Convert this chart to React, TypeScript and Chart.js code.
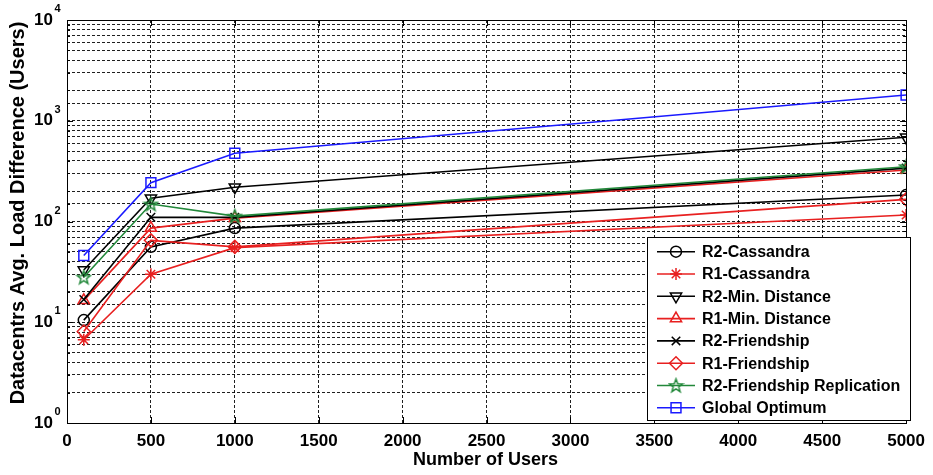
import React, { useEffect, useRef } from 'react';
import { Chart, registerables } from 'chart.js';
import { drawPoint } from 'chart.js/helpers';

Chart.register(...registerables);

// ---- data ----
const xValues = [100, 500, 1000, 5000];
const r2Cassandra = [10.5, 56, 86, 183];
const r1Cassandra = [6.7, 30, 55, 116];
const r2MinDistance = [33, 170, 219, 685];
const r1MinDistance = [16.5, 86, 108, 324];
const r2Friendship = [16.8, 110, 110, 339];
const r1Friendship = [8.1, 65, 56, 166];
const r2FriendshipReplication = [28, 149, 113, 350];
const globalOptimum = [46, 243, 475, 1800];

const seriesNames = [
  'R2-Cassandra',
  'R1-Cassandra',
  'R2-Min. Distance',
  'R1-Min. Distance',
  'R2-Friendship',
  'R1-Friendship',
  'R2-Friendship Replication',
  'Global Optimum',
];
const yDecades = [1, 10, 100, 1000, 10000];
const yExponents = ['0', '1', '2', '3', '4'];
const xAxisTitle = 'Number of Users';
const yAxisTitle = 'Datacentrs Avg. Load Difference (Users)';

const FONT = '"Liberation Sans", Arial, sans-serif';
const BLACK = '#000000';
const RED = '#e82020';
const GREEN = '#22883a';
const BLUE = '#1a1aff';

function makePentagram(color: string) {
  const size = 17;
  const c = document.createElement('canvas');
  c.width = size;
  c.height = size;
  const ctx = c.getContext('2d')!;
  const cx = size / 2;
  const cy = size / 2 + 0.5;
  ctx.beginPath();
  for (let i = 0; i < 10; i++) {
    const r = i % 2 === 0 ? 7 : 2.9;
    const a = -Math.PI / 2 + (i * Math.PI) / 5;
    const px = cx + r * Math.cos(a);
    const py = cy + r * Math.sin(a);
    if (i === 0) ctx.moveTo(px, py);
    else ctx.lineTo(px, py);
  }
  ctx.closePath();
  ctx.strokeStyle = color;
  ctx.lineWidth = 1.5;
  ctx.stroke();
  return c;
}

const toPoints = (ys: number[]) => xValues.map((x, i) => ({ x, y: ys[i] }));

export default function App() {
  const ref = useRef<HTMLCanvasElement | null>(null);

  useEffect(() => {
    if (!ref.current) return;
    const star = makePentagram(GREEN);
    const seriesValues = [
      r2Cassandra,
      r1Cassandra,
      r2MinDistance,
      r1MinDistance,
      r2Friendship,
      r1Friendship,
      r2FriendshipReplication,
      globalOptimum,
    ];
    const styles: { color: string; pointStyle: any; radius: number; rotation: number }[] = [
      { color: BLACK, pointStyle: 'circle', radius: 5.5, rotation: 0 },
      { color: RED, pointStyle: 'star', radius: 6, rotation: 0 },
      { color: BLACK, pointStyle: 'triangle', radius: 6.5, rotation: 180 },
      { color: RED, pointStyle: 'triangle', radius: 6.5, rotation: 0 },
      { color: BLACK, pointStyle: 'crossRot', radius: 6, rotation: 0 },
      { color: RED, pointStyle: 'rectRot', radius: 6.5, rotation: 0 },
      { color: GREEN, pointStyle: star, radius: 7, rotation: 0 },
      { color: BLUE, pointStyle: 'rect', radius: 7, rotation: 0 },
    ];

    const datasets = seriesNames.map((name, i) => ({
      label: name,
      data: toPoints(seriesValues[i]),
      borderColor: styles[i].color,
      backgroundColor: 'rgba(0,0,0,0)',
      borderWidth: 1.6,
      pointStyle: styles[i].pointStyle,
      pointRadius: styles[i].radius,
      pointRotation: styles[i].rotation,
      pointBorderColor: styles[i].color,
      pointBackgroundColor: 'rgba(0,0,0,0)',
      pointBorderWidth: 1.5,
      tension: 0,
      fill: false,
      order: seriesNames.length - i,
    }));

    const decorPlugin = {
      id: 'decor',
      beforeDraw(chart: any) {
        const ctx = chart.ctx;
        ctx.save();
        ctx.fillStyle = '#ffffff';
        ctx.fillRect(0, 0, chart.width, chart.height);
        ctx.restore();
      },
      afterDraw(chart: any) {
        const ctx = chart.ctx;
        const area = chart.chartArea;
        const xs = chart.scales.x;
        const ys = chart.scales.y;
        ctx.save();
        // frame
        ctx.strokeStyle = '#000';
        ctx.lineWidth = 1;
        ctx.setLineDash([]);
        ctx.strokeRect(Math.round(area.left) + 0.5, Math.round(area.top) + 0.5,
          Math.round(area.right - area.left), Math.round(area.bottom - area.top));
        // tick marks inward
        ctx.beginPath();
        xs.ticks.forEach((t: any) => {
          const px = Math.round(xs.getPixelForValue(t.value)) + 0.5;
          ctx.moveTo(px, area.bottom);
          ctx.lineTo(px, area.bottom - 6);
          ctx.moveTo(px, area.top);
          ctx.lineTo(px, area.top + 6);
        });
        ys.ticks.forEach((t: any) => {
          const py = Math.round(ys.getPixelForValue(t.value)) + 0.5;
          const major = yDecades.includes(t.value);
          const len = major ? 6 : 3;
          ctx.moveTo(area.left, py);
          ctx.lineTo(area.left + len, py);
          ctx.moveTo(area.right, py);
          ctx.lineTo(area.right - len, py);
        });
        ctx.stroke();

        // y tick labels 10^n
        ctx.fillStyle = '#000';
        yDecades.forEach((v, i) => {
          const py = ys.getPixelForValue(v);
          ctx.font = `bold 17px ${FONT}`;
          ctx.textAlign = 'right';
          ctx.textBaseline = 'middle';
          ctx.fillText('10', 53, py);
          ctx.font = `bold 11px ${FONT}`;
          ctx.textAlign = 'left';
          ctx.fillText(yExponents[i], 54.5, py - 11);
        });

        // axis titles
        ctx.font = `bold 18px ${FONT}`;
        ctx.textAlign = 'center';
        ctx.textBaseline = 'middle';
        ctx.fillText(xAxisTitle, (area.left + area.right) / 2 - 1, area.bottom + 37);
        ctx.save();
        ctx.translate(18, 213);
        ctx.rotate(-Math.PI / 2);
        ctx.font = `bold 20px ${FONT}`;
        ctx.fillText(yAxisTitle, 0, 0);
        ctx.restore();

        // legend
        const lx = 647, ly = 237, lw = 263, lh = 183;
        ctx.fillStyle = '#fff';
        ctx.fillRect(lx, ly, lw, lh);
        ctx.strokeStyle = '#000';
        ctx.lineWidth = 1;
        ctx.strokeRect(lx + 0.5, ly + 0.5, lw, lh);
        seriesNames.forEach((name, i) => {
          const cy = 251.7 + i * 22.3;
          const st = styles[i];
          ctx.strokeStyle = st.color;
          ctx.lineWidth = 1.6;
          ctx.beginPath();
          ctx.moveTo(657, cy);
          ctx.lineTo(695, cy);
          ctx.stroke();
          ctx.fillStyle = 'rgba(0,0,0,0)';
          ctx.strokeStyle = st.color;
          ctx.lineWidth = 1.5;
          drawPoint(ctx, {
            pointStyle: st.pointStyle,
            rotation: st.rotation,
            radius: st.radius,
            borderWidth: 1.5,
          } as any, 676, cy);
          ctx.fillStyle = '#000';
          ctx.font = `bold 16px ${FONT}`;
          ctx.textAlign = 'left';
          ctx.textBaseline = 'middle';
          ctx.fillText(name, 702, cy + 1);
        });
        ctx.restore();
      },
    };

    const gridColor = 'rgba(0,0,0,0.88)';
    const chart = new Chart(ref.current, {
      type: 'line',
      data: { datasets: datasets as any },
      options: {
        animation: false,
        responsive: false,
        maintainAspectRatio: false,
        layout: { padding: { left: 0, top: 20, right: 22, bottom: 0 } },
        plugins: { legend: { display: false }, tooltip: { enabled: false } },
        scales: {
          x: {
            type: 'linear',
            min: 0,
            max: 5000,
            ticks: {
              stepSize: 500,
              autoSkip: false,
              maxRotation: 0,
              padding: 8,
              color: '#000',
              font: { family: FONT, size: 17, weight: 'bold' },
              callback: (v: any) => String(v),
            },
            grid: { color: gridColor, lineWidth: 1, drawTicks: false },
            border: { display: false, dash: [3, 2] },
            afterFit: (s: any) => { s.height = 52; },
          },
          y: {
            type: 'logarithmic',
            min: 1,
            max: 10000,
            ticks: { display: false, autoSkip: false },
            grid: { color: gridColor, lineWidth: 1, drawTicks: false },
            border: { display: false, dash: [3, 2] },
            afterFit: (s: any) => { s.width = 67; },
          },
        },
      } as any,
      plugins: [decorPlugin],
    });
    return () => chart.destroy();
  }, []);

  return (
    <div style={{ position: 'absolute', left: 0, top: 0, width: 933, height: 475, background: '#fff' }}>
      <canvas ref={ref} width={933} height={475} style={{ display: 'block', width: 933, height: 475 }} />
    </div>
  );
}
